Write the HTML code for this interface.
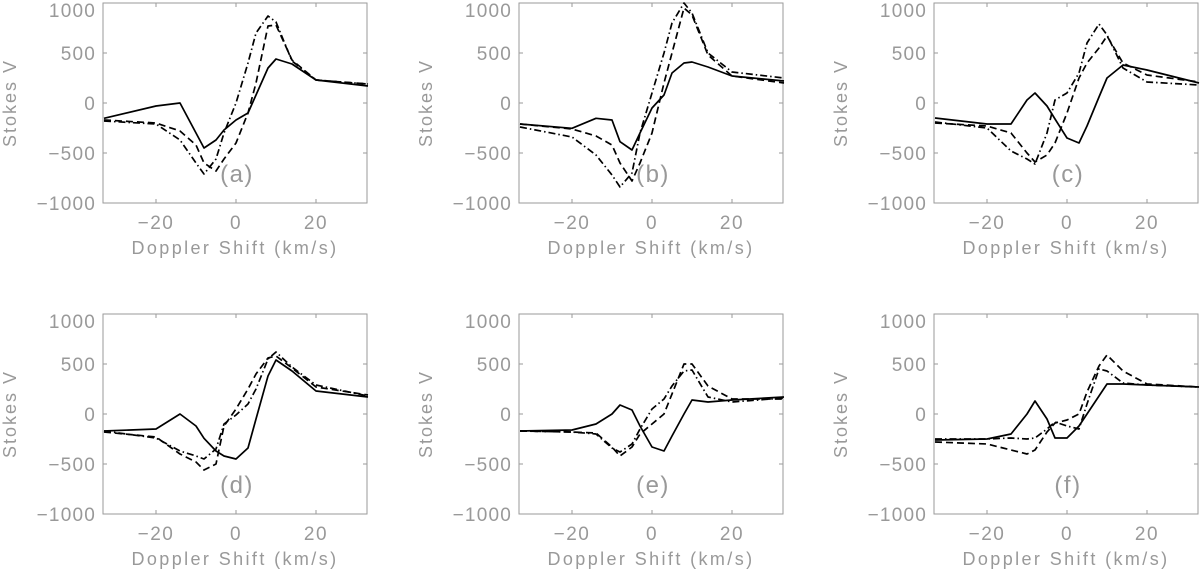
<!DOCTYPE html>
<html><head><meta charset="utf-8"><style>
html,body{margin:0;padding:0;background:#fff;}
svg{display:block;}
text{font-family:"Liberation Sans",sans-serif;fill:#999;}
</style></head><body>
<svg id="chart" width="1200" height="573" viewBox="0 0 1200 573" xmlns="http://www.w3.org/2000/svg"></svg>
<script>
const xs = [-33,-20,-14,-10,-8,-5,-3,0,3,5,8,10,14,20,33];
const panelLabels = ['(a)','(b)','(c)','(d)','(e)','(f)'];
const xTicks = [-20,0,20];
const yTicks = [-1000,-500,0,500,1000];
const solidA = [-153,-30,0,-300,-450,-370,-270,-170,-100,80,350,440,390,230,170];
const dashedA = [-170,-200,-280,-420,-600,-680,-560,-400,-100,200,770,780,430,230,190];
const dashdotA = [-180,-210,-370,-600,-710,-560,-300,0,400,700,870,810,420,230,190];
const solidB = [-210,-253,-153,-170,-387,-470,-300,-50,80,300,400,410,360,270,220];
const dashedB = [-210,-260,-330,-420,-600,-780,-600,-300,200,500,950,880,480,270,200];
const dashdotB = [-240,-340,-520,-720,-840,-700,-300,100,500,800,1000,900,500,310,250];
const solidC = [-150,-210,-210,30,100,-30,-160,-350,-400,-230,60,250,380,330,200];
const dashedC = [-200,-230,-300,-500,-590,-520,-400,-100,250,400,550,670,400,280,210];
const dashdotC = [-190,-250,-480,-560,-610,-300,30,100,300,600,790,680,350,210,180];
const solidD = [-170,-150,0,-120,-243,-370,-420,-450,-340,-50,380,540,430,230,170];
const dashedD = [-180,-230,-400,-480,-560,-500,-120,50,250,400,560,580,460,270,190];
const dashdotD = [-170,-240,-370,-420,-450,-350,-100,-10,100,250,550,620,470,290,180];
const solidE = [-170,-160,-100,0,90,40,-120,-330,-370,-220,0,140,120,140,170];
const dashedE = [-170,-180,-190,-330,-420,-330,-200,-100,0,200,500,500,280,150,150];
const dashdotE = [-170,-180,-200,-340,-380,-300,-150,50,150,280,430,440,170,120,160];
const solidF = [-260,-250,-200,0,130,-50,-240,-240,-120,0,180,300,300,290,270];
const dashedF = [-280,-300,-360,-400,-360,-180,-90,-60,0,220,480,590,430,300,270];
const dashdotF = [-250,-250,-240,-250,-240,-150,-80,-120,-150,100,450,430,310,290,270];

const panels = [
 [solidA,dashedA,dashdotA],[solidB,dashedB,dashdotB],[solidC,dashedC,dashdotC],
 [solidD,dashedD,dashdotD],[solidE,dashedE,dashdotE],[solidF,dashedF,dashdotF]
];
const styles = ['', '7,4', '7,3,1.5,3'];
const seriesNames = ['solid-line','dashed-line','dashdot-line'];
const NS = 'http://www.w3.org/2000/svg';
const svg = document.getElementById('chart');
const W = 264, H = 200, XMIN = -33.25, XMAX = 32.75;
function mk(tag, attrs, parent){const e=document.createElementNS(NS,tag);for(const k in attrs)e.setAttribute(k,attrs[k]);(parent||svg).appendChild(e);return e;}

panels.forEach((series, i) => {
  const L = [103,519,934][i%3], T = [3,314][Math.floor(i/3)];
  const sx = v => L + (v - XMIN) / (XMAX - XMIN) * W;
  const sy = v => T + H - (v + 1000) / 2000 * H;
  const g = mk('g', {});
  
  
  const fr = mk('rect', {x:L, y:T, width:W, height:H, fill:'none', stroke:'#9a9a9a', 'stroke-width':1}, g);
  
  
  xTicks.forEach(t => {
    const x = sx(t);
    mk('line', {x1:x,x2:x,y1:T+H,y2:T+H-4,stroke:'#9a9a9a'}, g);
    mk('line', {x1:x,x2:x,y1:T,y2:T+4,stroke:'#9a9a9a'}, g);
    const tx = mk('text', {x:x, y:T+H+26, 'text-anchor':'middle', 'font-size':19, 'letter-spacing':1.5}, g);
    tx.textContent = t < 0 ? '\u2212' + Math.abs(t) : String(t);
    
    
  });
  yTicks.forEach(t => {
    const y = sy(t);
    mk('line', {x1:L,x2:L+4,y1:y,y2:y,stroke:'#9a9a9a'}, g);
    mk('line', {x1:L+W,x2:L+W-4,y1:y,y2:y,stroke:'#9a9a9a'}, g);
    const tx = mk('text', {x:L-7, y:Math.max(y+7, T+14), 'text-anchor':'end', 'font-size':19, 'letter-spacing':1.2}, g);
    tx.textContent = t < 0 ? '\u2212' + Math.abs(t) : String(t);
    
    
  });
  const xl = mk('text', {x:L+W/2, y:T+H+51, 'text-anchor':'middle', 'font-size':18, 'letter-spacing':2.4}, g);
  xl.textContent = 'Doppler Shift (km/s)';
  
  
  const yl = mk('text', {x:0, y:0, 'text-anchor':'middle', 'font-size':18, 'letter-spacing':2, transform:`translate(${L-87},${T+H/2}) rotate(-90)`}, g);
  yl.textContent = 'Stokes V';
  
  
  const pl = mk('text', {x:sx(0)+1, y:T+179, 'text-anchor':'middle', 'font-size':24, 'letter-spacing':1.5}, g);
  pl.textContent = panelLabels[i];
  
  
  series.forEach((vals, k) => {
    const d = vals.map((v, j) => (j ? 'L' : 'M') + sx(xs[j]).toFixed(1) + ',' + sy(v).toFixed(1)).join('');
    const p = mk('path', {d:d, fill:'none', stroke:'#000', 'stroke-width':1.7, 'stroke-linejoin':'round'}, g);
    if (styles[k]) p.setAttribute('stroke-dasharray', styles[k]);
    
    
  });
});
</script>
</body></html>
